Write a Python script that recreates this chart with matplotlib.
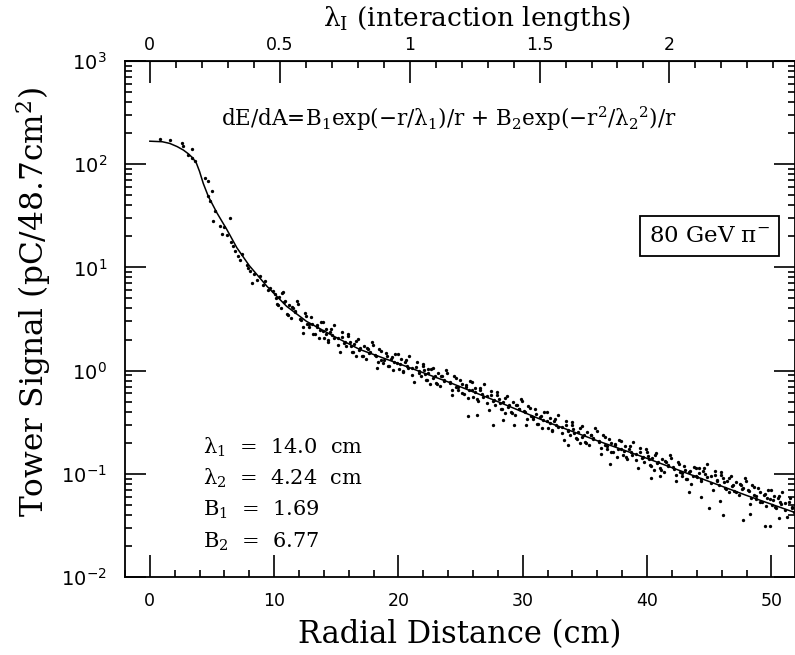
import math
import matplotlib
matplotlib.use("Agg")
import matplotlib.pyplot as plt
from matplotlib.ticker import FixedLocator, MultipleLocator, LogLocator, FuncFormatter, NullFormatter

plt.rcParams['font.family'] = 'DejaVu Serif'
plt.rcParams['mathtext.fontset'] = 'dejavuserif'

# fitted curve
curve_r = [0, 1, 1.6, 2.2, 2.7, 3.1, 3.45, 3.75, 4.0, 4.3, 4.7, 5.4, 6.2, 7.0, 8.0, 9.4,
           11.0, 12.6, 14.8, 16.9, 20, 24, 28, 32, 36, 40, 44, 48, 52]
curve_sig = [167, 165, 159, 148, 137, 126, 115, 102, 85, 65, 48.9, 33.7, 23.2, 15.5, 10.4, 6.6,
             4.2, 3.0, 2.15, 1.6, 1.17, 0.776, 0.50, 0.316, 0.209, 0.141, 0.0933, 0.0617, 0.0417]

# measured tower points (first set)
dot_r = [0.8, 1.6, 2.55, 2.66, 3.36, 3.09, 3.36, 3.62, 4.43, 4.67, 4.97, 4.69, 4.83, 5.23, 5.10,
         6.44, 5.64, 6.18, 6.71, 6.84, 7.11, 7.78, 7.25, 8.05, 8.19, 8.86, 9.12, 9.66, 7.4, 7.9,
         8.4, 8.6, 9.3, 9.5, 9.9, 6.0, 6.5, 5.8,
         10.08, 10.25, 10.41, 10.57, 10.74, 10.91,
         11.03, 11.19, 11.36, 11.52, 11.69, 11.85,
         12.12, 12.29, 12.46, 12.63, 12.79, 12.96,
         13.08, 13.25, 13.41, 13.57, 13.74, 13.91,
         14.03, 14.19, 14.36, 14.52, 14.69, 14.85,
         15.12, 15.29, 15.46, 15.63, 15.79, 15.96,
         16.08, 16.25, 16.41, 16.57, 16.74, 16.91,
         17.03, 17.19, 17.36, 17.52, 17.69, 17.85,
         18.12, 18.29, 18.46, 18.63, 18.79, 18.96,
         19.08, 19.25, 19.41, 19.57, 19.74, 19.91,
         20.03, 20.19, 20.36, 20.52, 20.69, 20.85,
         21.12, 21.29, 21.46, 21.63, 21.79, 21.96,
         22.08, 22.25, 22.41, 22.57, 22.74, 22.91,
         23.03, 23.19, 23.36, 23.52, 23.69, 23.85,
         24.12, 24.29, 24.46, 24.63, 24.79, 24.96,
         25.08, 25.25, 25.41, 25.57, 25.74, 25.91,
         26.03, 26.19, 26.36, 26.52, 26.69, 26.85,
         27.12, 27.29, 27.46, 27.63, 27.79, 27.96,
         28.08, 28.25, 28.41, 28.57, 28.74, 28.91,
         29.03, 29.19, 29.36, 29.52, 29.69, 29.85,
         30.12, 30.29, 30.46, 30.63, 30.79, 30.96,
         31.08, 31.25, 31.41, 31.57, 31.74, 31.91,
         32.03, 32.19, 32.36, 32.52, 32.69, 32.85,
         33.12, 33.29, 33.46, 33.63, 33.79, 33.96,
         34.08, 34.25, 34.41, 34.57, 34.74, 34.91,
         35.03, 35.19, 35.36, 35.52, 35.69, 35.85,
         36.12, 36.29, 36.46, 36.63, 36.79, 36.96,
         37.08, 37.25, 37.41, 37.57, 37.74, 37.91,
         38.03, 38.19, 38.36, 38.52, 38.69, 38.85,
         39.12, 39.29, 39.46, 39.63, 39.79, 39.96,
         40.08, 40.25, 40.41, 40.57, 40.74, 40.91,
         41.03, 41.19, 41.36, 41.52, 41.69, 41.85,
         42.12, 42.29, 42.46, 42.63, 42.79, 42.96,
         43.08, 43.25, 43.41, 43.57, 43.74, 43.91,
         44.03, 44.19, 44.36, 44.52, 44.69, 44.85,
         45.12, 45.29, 45.46, 45.63, 45.79, 45.96,
         46.08, 46.25, 46.41, 46.57, 46.74, 46.91,
         47.03, 47.19, 47.36, 47.52, 47.69, 47.85,
         48.12, 48.29, 48.46, 48.63, 48.79, 48.96,
         49.08, 49.25, 49.41, 49.57, 49.74, 49.91,
         50.03, 50.19, 50.36, 50.52, 50.69, 50.85,
         51.12, 51.29, 51.46, 51.63, 51.79,
         22.4, 25.6, 26.3, 27.6, 28.4, 29.3, 33.6, 37.0, 40.3, 41.0, 43.4, 44.3, 45.0,
         45.9, 46.1, 47.7, 48.3, 49.5, 49.9, 50.6]
dot_sig = [177, 171, 161, 151, 141, 124, 115, 107, 73.6, 68.3, 54.6, 48.9, 43.7, 35.0, 28.0,
           30.2, 25.0, 20.8, 16.0, 14.3, 12.8, 10.6, 11.9, 9.17, 7.08, 8.2, 6.81, 6.33, 13.5, 9.8,
           8.6, 7.6, 7.4, 6.0, 5.9, 24.5, 17.5, 21.0,
           5.49, 4.41, 5.15, 4.02, 5.78, 4.75,
           3.50, 4.32, 3.23, 4.06, 3.76, 4.70,
           3.17, 2.33, 3.59, 2.84, 2.63, 3.29,
           2.81, 2.26, 2.64, 2.06, 2.96, 2.43,
           2.06, 2.54, 1.90, 2.39, 2.21, 2.76,
           2.07, 1.52, 2.34, 1.85, 1.72, 2.15,
           1.90, 1.53, 1.79, 1.39, 2.01, 1.65,
           1.40, 1.73, 1.29, 1.62, 1.50, 1.88,
           1.43, 1.05, 1.62, 1.28, 1.19, 1.49,
           1.38, 1.11, 1.29, 1.01, 1.45, 1.19,
           1.04, 1.29, 0.963, 1.21, 1.12, 1.40,
           1.06, 0.78, 1.20, 0.95, 0.88, 1.10,
           1.01, 0.815, 0.951, 0.743, 1.07, 0.879,
           0.760, 0.940, 0.703, 0.882, 0.817, 1.02,
           0.780, 0.574, 0.883, 0.699, 0.648, 0.810,
           0.744, 0.598, 0.697, 0.544, 0.784, 0.644,
           0.554, 0.685, 0.513, 0.644, 0.596, 0.745,
           0.563, 0.414, 0.637, 0.504, 0.467, 0.584,
           0.532, 0.428, 0.499, 0.390, 0.561, 0.461,
           0.399, 0.493, 0.369, 0.463, 0.429, 0.536,
           0.405, 0.298, 0.458, 0.363, 0.336, 0.420,
           0.377, 0.303, 0.354, 0.276, 0.398, 0.327,
           0.279, 0.345, 0.258, 0.324, 0.300, 0.375,
           0.286, 0.211, 0.324, 0.257, 0.238, 0.297,
           0.273, 0.220, 0.256, 0.200, 0.288, 0.237,
           0.205, 0.253, 0.189, 0.238, 0.220, 0.275,
           0.210, 0.154, 0.238, 0.188, 0.174, 0.218,
           0.200, 0.161, 0.188, 0.147, 0.211, 0.174,
           0.151, 0.186, 0.139, 0.175, 0.162, 0.203,
           0.157, 0.115, 0.178, 0.141, 0.130, 0.163,
           0.150, 0.121, 0.141, 0.110, 0.158, 0.130,
           0.113, 0.139, 0.104, 0.131, 0.121, 0.151,
           0.116, 0.085, 0.131, 0.104, 0.096, 0.120,
           0.110, 0.0884, 0.103, 0.0805, 0.116, 0.0953,
           0.0922, 0.114, 0.0852, 0.107, 0.0991, 0.124,
           0.0948, 0.0697, 0.107, 0.0849, 0.0787, 0.0983,
           0.0902, 0.0725, 0.0845, 0.0660, 0.0950, 0.0781,
           0.0676, 0.0836, 0.0625, 0.0785, 0.0727, 0.0909,
           0.0694, 0.0511, 0.0786, 0.0622, 0.0576, 0.0721,
           0.0661, 0.0531, 0.0620, 0.0484, 0.0696, 0.0572,
           0.0498, 0.0616, 0.0461, 0.0579, 0.0536, 0.0670,
           0.0518, 0.0381, 0.0587, 0.0465, 0.0430,
           1.04, 0.36, 0.37, 0.30, 0.33, 0.30, 0.19, 0.125, 0.092, 0.095, 0.066, 0.059, 0.047,
           0.055, 0.040, 0.036, 0.041, 0.031, 0.031, 0.037]

# measured tower points (second set, towers in the other rows)
dot2_r = [10.16, 10.33, 10.60, 10.80, 11.12, 11.45, 11.66, 11.94,
          12.16, 12.33, 12.60, 12.80, 13.12, 13.45, 13.66, 13.94,
          14.16, 14.33, 14.60, 14.80, 15.12, 15.45, 15.66, 15.94,
          16.16, 16.33, 16.60, 16.80, 17.12, 17.45, 17.66, 17.94,
          18.16, 18.33, 18.60, 18.80, 19.12, 19.45, 19.66, 19.94,
          20.16, 20.33, 20.60, 20.80, 21.12, 21.45, 21.66, 21.94,
          22.16, 22.33, 22.60, 22.80, 23.12, 23.45, 23.66, 23.94,
          24.16, 24.33, 24.60, 24.80, 25.12, 25.45, 25.66, 25.94,
          26.16, 26.33, 26.60, 26.80, 27.12, 27.45, 27.66, 27.94,
          28.16, 28.33, 28.60, 28.80, 29.12, 29.45, 29.66, 29.94,
          30.16, 30.33, 30.60, 30.80, 31.12, 31.45, 31.66, 31.94,
          32.16, 32.33, 32.60, 32.80, 33.12, 33.45, 33.66, 33.94,
          34.16, 34.33, 34.60, 34.80, 35.12, 35.45, 35.66, 35.94,
          36.16, 36.33, 36.60, 36.80, 37.12, 37.45, 37.66, 37.94,
          38.16, 38.33, 38.60, 38.80, 39.12, 39.45, 39.66, 39.94,
          40.16, 40.33, 40.60, 40.80, 41.12, 41.45, 41.66, 41.94,
          42.16, 42.33, 42.60, 42.80, 43.12, 43.45, 43.66, 43.94,
          44.16, 44.33, 44.60, 44.80, 45.12, 45.45, 45.66, 45.94,
          46.16, 46.33, 46.60, 46.80, 47.12, 47.45, 47.66, 47.94,
          48.16, 48.33, 48.60, 48.80, 49.12, 49.45, 49.66, 49.94,
          50.16, 50.33, 50.60, 50.80, 51.12, 51.45, 51.66]
dot2_sig = [5.05, 4.36, 5.59, 4.61, 3.42, 4.10, 3.68, 4.40,
            3.08, 2.66, 3.41, 2.81, 2.28, 2.74, 2.46, 2.94,
            2.28, 1.97, 2.52, 2.08, 1.77, 2.13, 1.91, 2.28,
            1.75, 1.51, 1.94, 1.60, 1.37, 1.64, 1.47, 1.76,
            1.39, 1.20, 1.54, 1.27, 1.12, 1.34, 1.21, 1.44,
            1.15, 0.997, 1.28, 1.05, 0.91, 1.09, 0.98, 1.17,
            0.933, 0.806, 1.03, 0.852, 0.743, 0.891, 0.801, 0.956,
            0.758, 0.655, 0.839, 0.692, 0.604, 0.724, 0.651, 0.777,
            0.614, 0.530, 0.679, 0.560, 0.483, 0.579, 0.520, 0.621,
            0.489, 0.423, 0.542, 0.447, 0.390, 0.468, 0.420, 0.502,
            0.393, 0.340, 0.435, 0.359, 0.307, 0.367, 0.330, 0.394,
            0.309, 0.267, 0.342, 0.282, 0.246, 0.294, 0.265, 0.316,
            0.251, 0.217, 0.278, 0.229, 0.200, 0.240, 0.216, 0.257,
            0.204, 0.176, 0.226, 0.186, 0.163, 0.195, 0.175, 0.209,
            0.167, 0.144, 0.185, 0.152, 0.135, 0.161, 0.145, 0.173,
            0.138, 0.119, 0.153, 0.126, 0.110, 0.132, 0.119, 0.142,
            0.112, 0.097, 0.124, 0.102, 0.0894, 0.107, 0.0962, 0.115,
            0.102, 0.0882, 0.113, 0.0932, 0.0814, 0.0974, 0.0876, 0.105,
            0.0829, 0.0716, 0.0918, 0.0757, 0.0662, 0.0792, 0.0712, 0.0851,
            0.0675, 0.0583, 0.0747, 0.0616, 0.0537, 0.0643, 0.0578, 0.0690,
            0.0552, 0.0477, 0.0611, 0.0504, 0.0445, 0.0533, 0.0479]

fit_params = ["λ$_1$  =  14.0  cm", "λ$_2$  =  4.24  cm", "B$_1$  =  1.69", "B$_2$  =  6.77"]
lambda_I = 20.9  # cm per interaction length

fig = plt.figure(figsize=(7.95, 6.55), dpi=100)
ax = fig.add_axes([0.1572, 0.1191, 0.8428, 0.7878])

ax.plot(dot_r, dot_sig, 'o', color='black', ms=2.4, mew=0, zorder=3)
ax.plot(dot2_r, dot2_sig, 'o', color='black', ms=2.4, mew=0, zorder=3)
ax.plot(curve_r, curve_sig, '-', color='black', lw=1.1, zorder=2)

ax.set_yscale('log')
ax.set_xlim(-2, 51.9)
ax.set_ylim(1e-2, 1e3)

ax.xaxis.set_major_locator(FixedLocator([0, 10, 20, 30, 40, 50]))
ax.xaxis.set_minor_locator(MultipleLocator(2))
ax.yaxis.set_major_locator(LogLocator(base=10, numticks=10))
ax.yaxis.set_minor_locator(LogLocator(base=10, subs=range(2, 10), numticks=20))
ax.yaxis.set_major_formatter(FuncFormatter(lambda v, p: r'$\mathsf{10^{%d}}$' % round(math.log10(v))))
ax.yaxis.set_minor_formatter(NullFormatter())

ax.tick_params(axis='both', which='both', direction='in', width=1.2, labelfontfamily='DejaVu Sans')
ax.tick_params(axis='y', which='major', length=15, pad=13, right=True, labelsize=14)
ax.tick_params(axis='y', which='minor', length=5, right=True)
ax.tick_params(axis='x', which='major', length=16, pad=11, top=False, labelsize=12.5)
ax.tick_params(axis='x', which='minor', length=5, top=False)
for s in ax.spines.values():
    s.set_linewidth(1.3)

secax = ax.secondary_xaxis('top', functions=(lambda r: r / lambda_I, lambda l: l * lambda_I))
secax.xaxis.set_major_locator(FixedLocator([0, 0.5, 1, 1.5, 2]))
secax.xaxis.set_minor_locator(MultipleLocator(0.1))
secax.xaxis.set_major_formatter(FuncFormatter(lambda v, p: '%g' % v))
secax.tick_params(which='both', direction='in', width=1.2, labelsize=12.5, labelfontfamily='DejaVu Sans')
secax.tick_params(which='major', length=16, pad=5)
secax.tick_params(which='minor', length=5)
secax.set_xlabel("λ$_\\mathrm{I}$ (interaction lengths)", fontsize=19, labelpad=7)
secax.xaxis.label.set_x(0.525)

ax.set_xlabel("Radial Distance (cm)", fontsize=22, labelpad=6)
ax.set_ylabel("Tower Signal (pC/48.7cm$^2$)", fontsize=22.5, labelpad=6)
ax.yaxis.label.set_y(0.533)

ax.text(0.484, 0.888, "dE/dA=B$_1$exp(−r/λ$_1$)/r + B$_2$exp(−r$^2$/λ$_2{}^2$)/r",
        transform=ax.transAxes, ha='center', va='center', fontsize=15.5)

ax.text(0.963, 0.661, "80 GeV π$^{-}$", transform=ax.transAxes, ha='right', va='center',
        fontsize=16.5, bbox=dict(boxstyle='square,pad=0.4', fc='white', ec='black', lw=1.3))

for i, t in enumerate(fit_params):
    ax.text(0.116, 0.252 - i * 0.061, t, transform=ax.transAxes, ha='left', va='center', fontsize=15)

fig.savefig("out.png", dpi=100)
